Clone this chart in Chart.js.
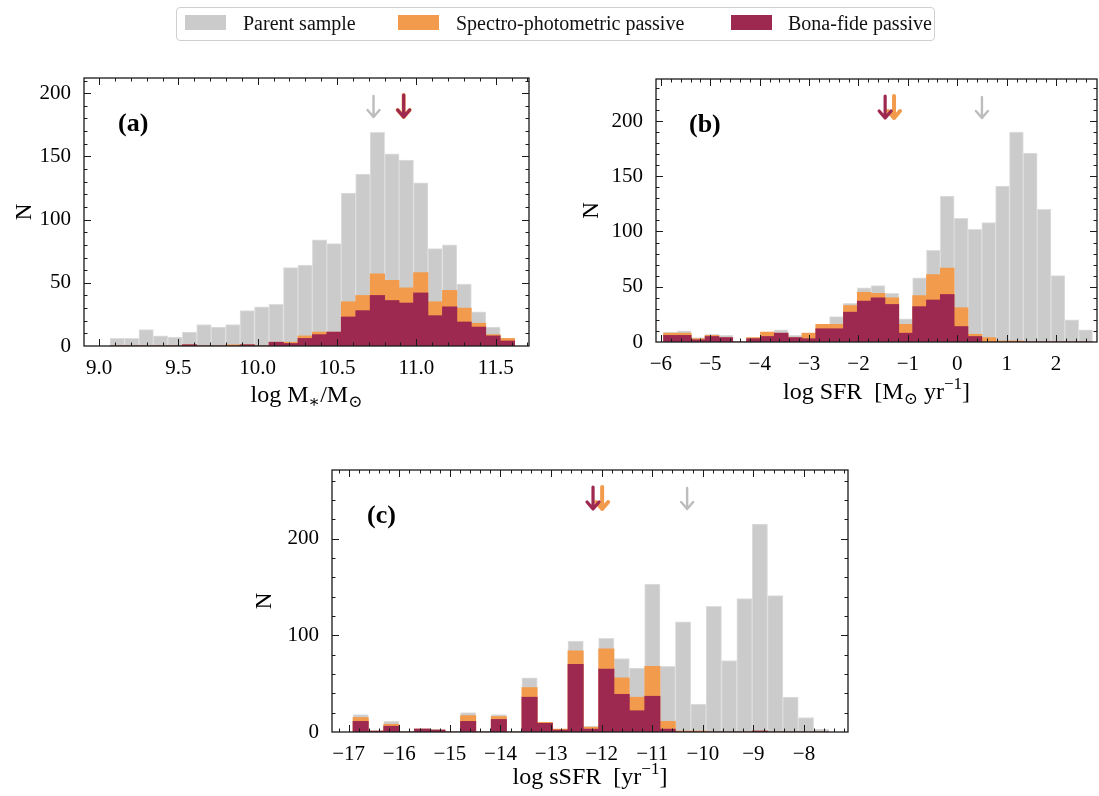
<!DOCTYPE html>
<html>
<head>
<meta charset="utf-8">
<script src="https://cdn.jsdelivr.net/npm/chart.js@4.4.1/dist/chart.umd.min.js"></script>
<style>
  html, body { margin: 0; padding: 0; background: #fff; }
  #wrap { position: relative; width: 1099px; height: 796px; overflow: hidden; font-family: "Liberation Serif", "DejaVu Serif", serif; }
  #wrap canvas { position: absolute; left: 0; top: 0; }
  .legend-box { position: absolute; left: 176px; top: 7px; width: 759px; height: 34px; border: 1px solid #cfcfcf; border-radius: 4px; box-sizing: border-box; }
  .patch { position: absolute; top: 15px; width: 41px; height: 15px; }
  .ltext { position: absolute; top: 11px; font-size: 20px; line-height: 24px; color: #111; white-space: nowrap; }
</style>
</head>
<body>
<div id="wrap">
  <canvas id="chartMass" width="1099" height="796"></canvas>
  <canvas id="chartSfr" width="1099" height="796"></canvas>
  <canvas id="chartSsfr" width="1099" height="796"></canvas>

  <!-- Leyenda común -->
  <div class="legend-box"></div>
  <div class="patch" style="left:185px;background:#cbcbcb"></div>
  <div class="ltext" style="left:243px">Parent sample</div>
  <div class="patch" style="left:398px;background:#f39b4c"></div>
  <div class="ltext" style="left:456px">Spectro-photometric passive</div>
  <div class="patch" style="left:731px;background:#9d2850"></div>
  <div class="ltext" style="left:788px">Bona-fide passive</div>
</div>

<script>
const FONT = '"Liberation Serif", "DejaVu Serif", serif';
const GRAY = '#cbcbcb';
const ORANGE = '#f39b4c';
const PURPLE = '#9d2850';

// (a) log M*/Msun
const massBinStart = 9.069;
const massBinWidth = 0.0911;
const massParent   = [6, 6, 13, 8, 7, 11, 17, 15, 17, 28, 31, 33, 62, 64, 84, 81, 121, 136, 169, 152, 147, 129, 77, 80, 49, 27, 15, 6];
const massSpectro  = [0, 0, 0, 0, 0, 1, 0, 0, 1, 1, 0, 3, 3, 8, 11, 11, 35, 40, 57, 52, 46, 58, 35, 44, 30, 18, 9, 6];
const massBonaFide = [0, 0, 0, 0, 0, 1, 0, 0, 0, 1, 0, 3, 2, 6, 9, 11, 23, 28, 40, 36, 34, 42, 24, 31, 19, 15, 8, 4];
const massTicksX = [9.0, 9.5, 10.0, 10.5, 11.0, 11.5];
const massTicksY = [0, 50, 100, 150, 200];
const massArrows = [10.73, 10.92, 10.92]; // parent, spectro, bona-fide

// (b) log SFR
const sfrBinStart = -5.947;
const sfrBinWidth = 0.2802;
const sfrParent   = [9, 10, 4, 7, 6, 0, 4, 9, 11, 6, 8, 16, 23, 35, 49, 51, 44, 21, 58, 83, 132, 112, 102, 108, 141, 190, 171, 120, 60, 20, 11];
const sfrSpectro  = [8, 8, 3, 6, 4, 0, 4, 9, 8, 4, 8, 16, 16, 33, 45, 44, 40, 16, 42, 61, 67, 31, 7, 4, 1, 1, 0, 0, 0, 0, 0];
const sfrBonaFide = [6, 6, 2, 5, 4, 0, 3, 5, 8, 4, 3, 12, 12, 27, 37, 40, 34, 8, 32, 38, 43, 14, 5, 0, 0, 0, 0, 0, 0, 0, 0];
const sfrTicksX = [-6, -5, -4, -3, -2, -1, 0, 1, 2];
const sfrTicksY = [0, 50, 100, 150, 200];
const sfrArrows = [0.50, -1.28, -1.46];

// (c) log sSFR
const ssfrBinStart = -16.915;
const ssfrBinWidth = 0.3035;
const ssfrParent   = [18, 1, 11, 0, 4, 3, 0, 20, 0, 18, 0, 56, 10, 3, 94, 6, 97, 76, 66, 153, 68, 114, 29, 130, 74, 138, 215, 141, 36, 15, 3];
const ssfrSpectro  = [15, 1, 8, 0, 3, 2, 0, 17, 0, 16, 0, 46, 10, 3, 84, 5, 86, 56, 36, 68, 11, 1, 1, 0, 0, 0, 1, 0, 0, 0, 0];
const ssfrBonaFide = [11, 1, 6, 0, 3, 2, 0, 11, 0, 13, 0, 36, 9, 2, 70, 3, 65, 39, 22, 37, 3, 0, 0, 0, 0, 0, 1, 0, 0, 0, 0];
const ssfrTicksX = [-17, -16, -15, -14, -13, -12, -11, -10, -9, -8];
const ssfrTicksY = [0, 100, 200];
const ssfrArrows = [-10.31, -11.99, -12.17];

const Y_W = 60;  // ancho fijo del eje y
const X_H = 30;  // alto fijo del eje x

function toPoints(values, start, width) {
    return values.map((v, i) => ({ x: start + (i + 0.5) * width, y: v }));
}

function fmtMinus(v) {
    return String(v).replace('-', '\u2212');
}

// Dibuja texto con sub/superíndices centrado en cx (baseline cy)
function drawRich(ctx, parts, cx, cy, size) {
    const fontFor = m => (m ? Math.round(size * 0.7) : size) + 'px ' + FONT;
    const widths = parts.map(([t, m]) => { ctx.font = fontFor(m); return ctx.measureText(t).width; });
    let xx = cx - widths.reduce((s, w) => s + w, 0) / 2;
    ctx.textAlign = 'left';
    ctx.textBaseline = 'alphabetic';
    parts.forEach(([t, m], i) => {
        ctx.font = fontFor(m);
        const dy = m === 'sub' ? size * 0.22 : m === 'sup' ? -size * 0.4 : 0;
        ctx.fillText(t, xx, cy + dy);
        xx += widths[i];
    });
}

function drawArrow(ctx, px, y0, y1, color, lw) {
    ctx.save();
    ctx.strokeStyle = color;
    ctx.lineWidth = lw;
    ctx.lineCap = 'round';
    ctx.lineJoin = 'round';
    ctx.beginPath();
    ctx.moveTo(px, y0);
    ctx.lineTo(px, y1);
    ctx.moveTo(px - 6, y1 - 7);
    ctx.lineTo(px, y1);
    ctx.lineTo(px + 6, y1 - 7);
    ctx.stroke();
    ctx.restore();
}

// Marco, ticks hacia dentro en los cuatro lados, flechas y textos estilo matplotlib
const mplPlugin = {
    id: 'mpl',
    afterDatasetsDraw(chart, args, opts) {
        const { ctx, chartArea: a, scales: { x, y } } = chart;
        ctx.save();
        ctx.strokeStyle = '#1a1a1a';
        ctx.lineWidth = 1;
        const seg = (x0, y0, x1, y1) => { ctx.beginPath(); ctx.moveTo(x0, y0); ctx.lineTo(x1, y1); ctx.stroke(); };
        const xTick = (v, len) => {
            const px = Math.round(x.getPixelForValue(v)) + 0.5;
            if (px < a.left + 1 || px > a.right - 1) return;
            seg(px, a.bottom, px, a.bottom - len);
            seg(px, a.top, px, a.top + len);
        };
        const yTick = (v, len) => {
            const py = Math.round(y.getPixelForValue(v)) + 0.5;
            if (py < a.top + 1 || py > a.bottom - 1) return;
            seg(a.left, py, a.left + len, py);
            seg(a.right, py, a.right - len, py);
        };
        for (let v = Math.ceil(x.min / opts.xMinor) * opts.xMinor; v <= x.max; v += opts.xMinor) xTick(v, 3.5);
        for (let v = 0; v <= y.max; v += opts.yMinor) yTick(v, 3.5);
        opts.xMajor.forEach(v => xTick(v, 7));
        opts.yMajor.forEach(v => yTick(v, 7));
        ctx.lineWidth = 1.3;
        ctx.strokeRect(a.left, a.top, a.right - a.left, a.bottom - a.top);

        // flechas: parent, spectro, bona-fide
        const [xp, xs, xb] = opts.arrows;
        drawArrow(ctx, x.getPixelForValue(xp), a.top + 18, a.top + 39, '#bdbdbd', 2.4);
        drawArrow(ctx, x.getPixelForValue(xs), a.top + 17, a.top + 39, ORANGE, 4);
        drawArrow(ctx, x.getPixelForValue(xb), a.top + 17, a.top + 39, PURPLE, 3.2);
        ctx.restore();
    },
    afterDraw(chart, args, opts) {
        const { ctx, chartArea: a } = chart;
        ctx.save();
        ctx.fillStyle = '#000';
        // etiqueta del panel
        ctx.font = 'bold 26px ' + FONT;
        ctx.textAlign = 'left';
        ctx.textBaseline = 'middle';
        ctx.fillText(opts.panel, a.left + opts.panelDx, a.top + opts.panelDy);
        // título eje x
        drawRich(ctx, opts.xTitle, (a.left + a.right) / 2, a.bottom + opts.xTitleDy, 24);
        // título eje y
        ctx.save();
        ctx.translate(a.left - opts.yTitleDx, (a.top + a.bottom) / 2);
        ctx.rotate(-Math.PI / 2);
        ctx.font = '23px ' + FONT;
        ctx.textAlign = 'center';
        ctx.textBaseline = 'middle';
        ctx.fillText('N', 0, 0);
        ctx.restore();
        ctx.restore();
    }
};

function buildPanel(id, p) {
    const area = p.area;
    return new Chart(document.getElementById(id), {
        type: 'bar',
        data: {
            datasets: [
                { label: 'Parent sample', data: toPoints(p.parent, p.binStart, p.binWidth), backgroundColor: GRAY, borderColor: '#dedede', borderWidth: 1, order: 3 },
                { label: 'Spectro-photometric passive', data: toPoints(p.spectro, p.binStart, p.binWidth), backgroundColor: ORANGE, borderWidth: 0, order: 2 },
                { label: 'Bona-fide passive', data: toPoints(p.bona, p.binStart, p.binWidth), backgroundColor: PURPLE, borderWidth: 0, order: 1 }
            ]
        },
        options: {
            responsive: false,
            animation: false,
            devicePixelRatio: 1,
            layout: {
                padding: {
                    left: area.left - Y_W,
                    top: area.top,
                    right: 1099 - area.right,
                    bottom: 796 - area.bottom - X_H
                }
            },
            datasets: { bar: { barPercentage: 1, categoryPercentage: 1, grouped: false } },
            plugins: {
                legend: { display: false },
                tooltip: { enabled: false },
                mpl: {
                    xMajor: p.ticksX, xMinor: p.xMinor, yMajor: p.ticksY, yMinor: p.yMinor,
                    arrows: p.arrows, panel: p.panel, panelDx: p.panelDx, panelDy: 46,
                    xTitle: p.xTitle, xTitleDy: p.xTitleDy, yTitleDx: p.yTitleDx
                }
            },
            scales: {
                x: {
                    type: 'linear',
                    offset: false,
                    min: p.xMin,
                    max: p.xMax,
                    grid: { display: false },
                    border: { display: false },
                    afterBuildTicks: s => { s.ticks = p.ticksX.map(v => ({ value: v })); },
                    afterFit: s => { s.height = X_H; },
                    ticks: {
                        autoSkip: false,
                        maxRotation: 0,
                        padding: 2,
                        color: '#000',
                        font: { family: FONT, size: 21 },
                        callback: p.fmt
                    }
                },
                y: {
                    min: 0,
                    max: p.yMax,
                    grid: { display: false },
                    border: { display: false },
                    afterBuildTicks: s => { s.ticks = p.ticksY.map(v => ({ value: v })); },
                    afterFit: s => { s.width = Y_W; },
                    ticks: {
                        padding: 5,
                        color: '#000',
                        font: { family: FONT, size: 21 }
                    }
                }
            }
        },
        plugins: [mplPlugin]
    });
}

buildPanel('chartMass', {
    area: { left: 84, top: 78, right: 529, bottom: 346 },
    xMin: 8.905, xMax: 11.71, yMax: 212,
    binStart: massBinStart, binWidth: massBinWidth,
    parent: massParent, spectro: massSpectro, bona: massBonaFide,
    ticksX: massTicksX, ticksY: massTicksY, xMinor: 0.1, yMinor: 10,
    fmt: v => v.toFixed(1),
    arrows: massArrows,
    panel: '(a)', panelDx: 34,
    xTitle: [['log M', ''], ['\u2217', 'sub'], ['/M', ''], ['\u2299', 'sub']],
    xTitleDy: 56, yTitleDx: 59
});

buildPanel('chartSfr', {
    area: { left: 656, top: 79, right: 1097, bottom: 342 },
    xMin: -6.1, xMax: 2.83, yMax: 238,
    binStart: sfrBinStart, binWidth: sfrBinWidth,
    parent: sfrParent, spectro: sfrSpectro, bona: sfrBonaFide,
    ticksX: sfrTicksX, ticksY: sfrTicksY, xMinor: 0.2, yMinor: 10,
    fmt: v => fmtMinus(v),
    arrows: sfrArrows,
    panel: '(b)', panelDx: 33,
    xTitle: [['log SFR  [M', ''], ['\u2299', 'sub'], [' yr', ''], ['\u22121', 'sup'], [']', '']],
    xTitleDy: 57, yTitleDx: 64
});

buildPanel('chartSsfr', {
    area: { left: 332, top: 470, right: 848, bottom: 732 },
    xMin: -17.33, xMax: -7.13, yMax: 271,
    binStart: ssfrBinStart, binWidth: ssfrBinWidth,
    parent: ssfrParent, spectro: ssfrSpectro, bona: ssfrBonaFide,
    ticksX: ssfrTicksX, ticksY: ssfrTicksY, xMinor: 0.2, yMinor: 20,
    fmt: v => fmtMinus(v),
    arrows: ssfrArrows,
    panel: '(c)', panelDx: 35,
    xTitle: [['log sSFR  [yr', ''], ['\u22121', 'sup'], [']', '']],
    xTitleDy: 52, yTitleDx: 67
});
</script>
</body>
</html>
